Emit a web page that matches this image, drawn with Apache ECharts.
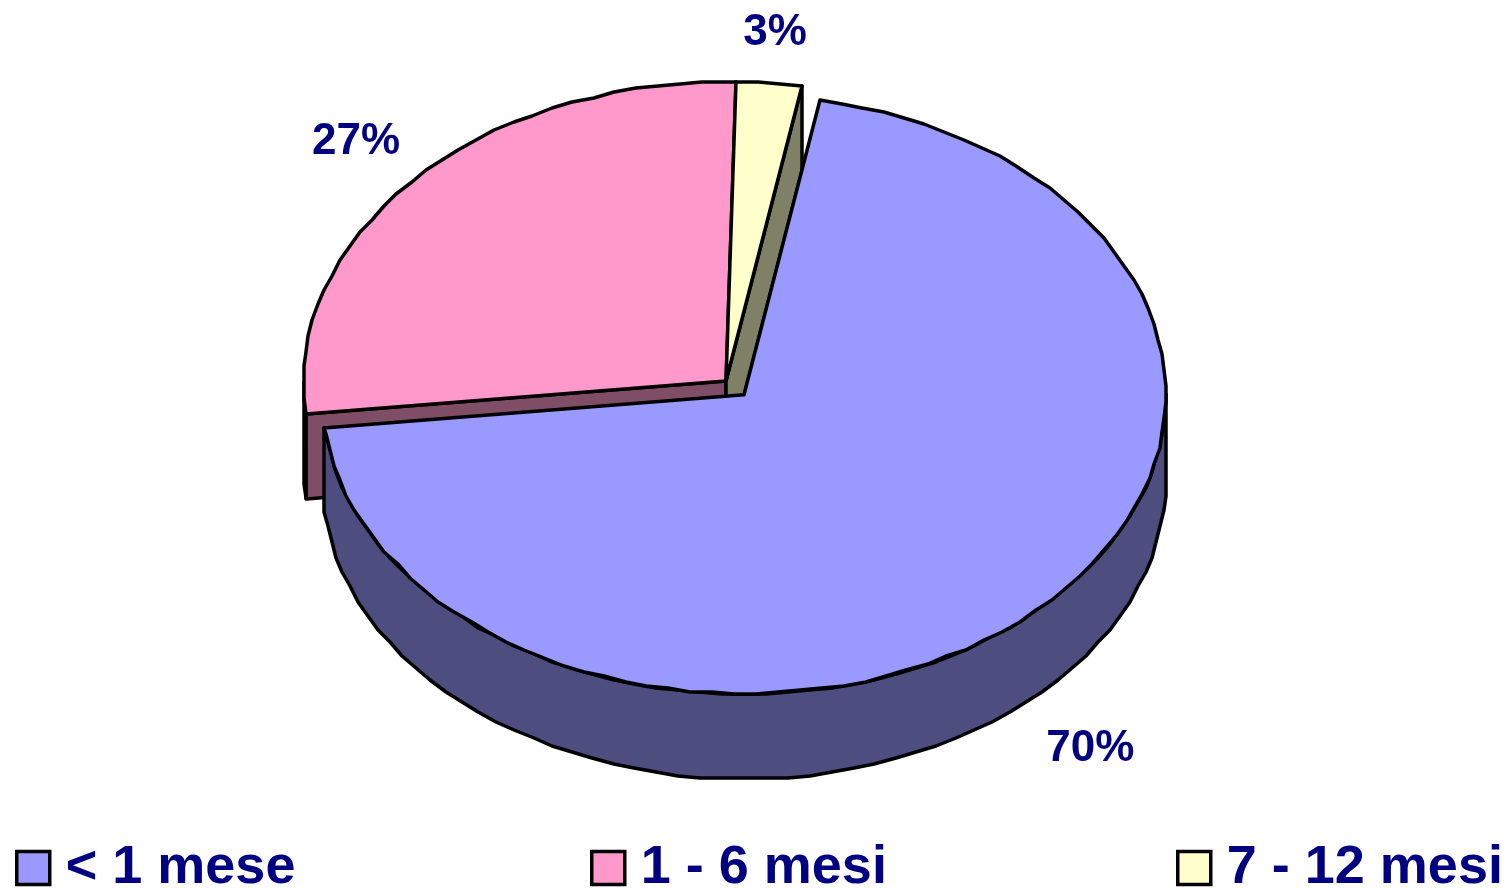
<!DOCTYPE html>
<html>
<head>
<meta charset="utf-8">
<title>Pie</title>
<script src="https://cdn.jsdelivr.net/npm/echarts@6/dist/echarts.min.js"></script>
<style>
html,body{margin:0;padding:0;background:#fff;}
#chart{width:1507px;height:888px;}
</style>
</head>
<body>
<div id="chart"></div>
<script>
const categories = ["< 1 mese", "1 - 6 mesi", "7 - 12 mesi"]
const values = [70.4, 27.1, 2.5] // labels are rounded
const explode = [0.0626, 0, 0] // share of the radius

const topColors = ["#9999FF", "#FF99CC", "#FFFFCC"]
const sideColors = ["#4D4D80", "#804D66", "#808066"]
const legendLefts = [15, 590, 1176]
const labelGapX = [86, 80, 64]
const labelGapY = [69, 55, 51]

// 3d look of the pie
const cx = 726, cy = 381, rx = 422, ry = 299, depth = 85
const startAngle = 10.3
const snap = 2, step = 3 // the outline of the original is rough
const navy = "#000080"

const total = values.reduce((a, b) => a + b, 0)
const rad = d => d * Math.PI / 180

function rim(c, t, dy){
	const x = c.x + Math.sin(rad(t)) * rx
	const y = c.y - Math.cos(rad(t)) * ry + (dy || 0)
	return [Math.round(x / snap) * snap, Math.round(y / snap) * snap]
}
function arc(c, from, to, dy){
	const pts = []
	for(let t = from; t < to; t += step) pts.push(rim(c, t, dy))
	pts.push(rim(c, to, dy))
	return pts
}
function poly(points, fill, z2){
	return {
		type: "polygon",
		z2: z2,
		shape: {points: points},
		style: {fill: fill, stroke: "#000", lineWidth: 3.5, lineJoin: "round"}
	}
}

function sliceRender(index){
	return () => {
		let before = 0
		for(let i = 0; i < index; i++) before += values[i]
		const from = startAngle + before / total * 360
		const to = from + values[index] / total * 360
		const mid = (from + to) / 2
		const c = {
			x: cx + Math.sin(rad(mid)) * rx * explode[index],
			y: cy - Math.cos(rad(mid)) * ry * explode[index]
		}
		const side = sideColors[index], children = []
		const apex = [c.x, c.y]

		// cut faces, only the ones turned to the viewer
		if(Math.sin(rad(from)) < 0){
			const e = rim(c, from)
			children.push(poly([apex, e, [e[0], e[1] + depth], [apex[0], apex[1] + depth]], side, 1))
		}
		if(Math.sin(rad(to)) > 0){
			const e = rim(c, to)
			children.push(poly([apex, e, [e[0], e[1] + depth], [apex[0], apex[1] + depth]], side, 1))
		}
		// outer wall
		const a = Math.max(from, 90), b = Math.min(to, 270)
		if(b > a){
			children.push(poly(arc(c, a, b).concat(arc(c, a, b, depth).reverse()), side, 2))
		}
		// top face
		children.push(poly([apex].concat(arc(c, from, to)), topColors[index], 3))
		// label
		const low = Math.cos(rad(mid)) < 0
		children.push({
			type: "text",
			z2: 4,
			style: {
				text: Math.round(values[index]) + "%",
				x: c.x + Math.sin(rad(mid)) * (rx + labelGapX[index]),
				y: c.y - Math.cos(rad(mid)) * (ry + labelGapY[index]) + (low ? depth : 0),
				fill: navy,
				font: "bold 44px 'Liberation Sans'",
				align: "center",
				verticalAlign: "middle"
			}
		})
		return {type: "group", children: children}
	}
}

// draw order: back slices first, the exploded one last
const drawOrder = [1, 2, 0]
const series = drawOrder.map(index => {
	return {
		name: categories[index],
		type: "custom",
		coordinateSystem: "none",
		silent: true,
		animation: false,
		itemStyle: {color: topColors[index]},
		data: [values[index]],
		renderItem: sliceRender(index)
	}
})

const legends = categories.map((name, index) => {
	return {
		data: [name],
		left: legendLefts[index],
		top: 841,
		padding: 0,
		icon: "rect",
		itemWidth: 33,
		itemHeight: 33,
		selectedMode: false,
		itemStyle: {borderColor: "#000", borderWidth: 3.5},
		textStyle: {
			color: navy,
			fontFamily: "Liberation Sans",
			fontWeight: "bold",
			fontSize: 54,
			padding: [0, 0, 0, 11]
		}
	}
})

const myChart = echarts.init(document.getElementById("chart"), null, {renderer: "canvas"})
myChart.setOption({
	animation: false,
	backgroundColor: "#fff",
	legend: legends,
	series: series
})
</script>
</body>
</html>
